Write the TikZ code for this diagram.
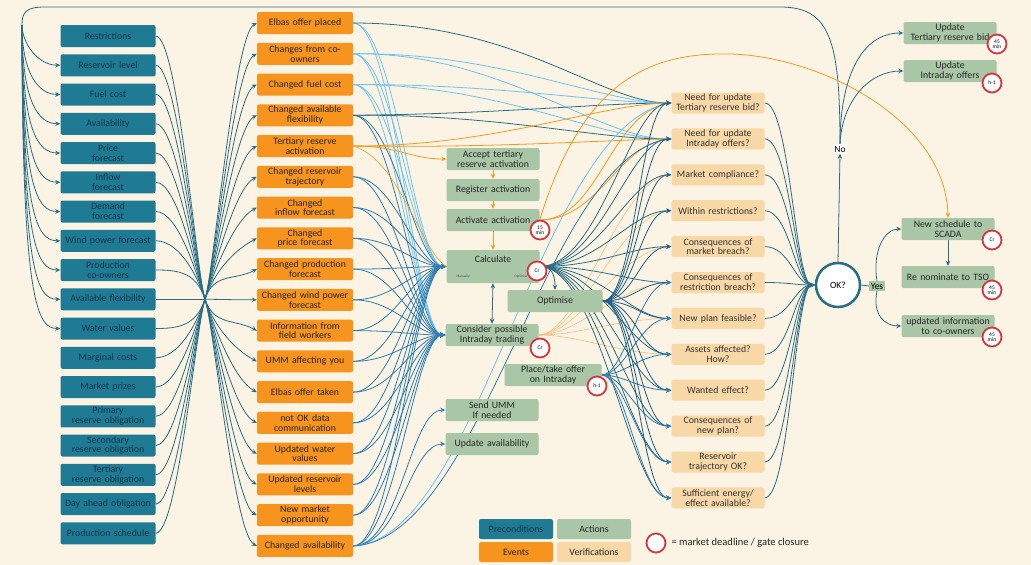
\documentclass[tikz,border=0pt]{standalone}
\usepackage{fontspec}
\setmainfont{Carlito}
\usetikzlibrary{arrows.meta}
\pgfdeclarelayer{back}
\pgfdeclarelayer{lines}
\pgfsetlayers{back,lines,main}
\definecolor{bg}{HTML}{FBF3E3}
\definecolor{pcol}{HTML}{1F7A94}
\definecolor{ptext}{HTML}{14364A}
\definecolor{ecol}{HTML}{F7941D}
\definecolor{acol}{HTML}{A9C6A6}
\definecolor{vcol}{HTML}{F9D8A7}
\definecolor{vdark}{HTML}{F0C088}
\definecolor{tl}{HTML}{2A6E85}
\definecolor{dbl}{HTML}{1F5F8A}
\definecolor{bl}{HTML}{2E7DB5}
\definecolor{lb}{HTML}{6CC4EE}
\definecolor{oc}{HTML}{F39A22}
\definecolor{mred}{HTML}{D8353C}
\tikzset{
 box/.style={rounded corners=2pt, minimum height=22pt, align=center, inner sep=0.5pt, font=\fontsize{9.8}{9.8}\selectfont},
 pre/.style={box, fill=pcol, text=ptext, minimum width=95pt, text width=94pt},
 evt/.style={box, fill=ecol, text=black!85, minimum width=96pt, text width=95pt},
 act/.style={box, fill=acol, text=black!85, minimum width=93pt, text width=92pt},
 ver/.style={box, fill=vcol, text=black!80, minimum width=93pt, text width=92pt, minimum height=21pt},
 leg/.style={box, minimum width=74pt, minimum height=20pt, text width=72pt},
 mk/.style={circle, draw=mred, line width=1.8pt, fill=white, minimum size=19pt, inner sep=0pt, align=center, font=\fontsize{5.5}{5.5}\selectfont},
 ln/.style={line width=0.8pt},
 arr/.style={-{Stealth[length=5pt,width=4.5pt]}},
}
\begin{document}
\begin{tikzpicture}[x=1pt,y=1pt]
\begin{pgfonlayer}{back}
\fill[bg] (0,0) rectangle (1031,-565);
\end{pgfonlayer}
\useasboundingbox (0,0) rectangle (1031,-565);

% preconditions
\foreach \t [count=\i] in {Restrictions, Reservoir level, Fuel cost, Availability, Price\\forecast, Inflow\\forecast, Demand\\forecast, Wind power forecast, Production\\co-owners, Available flexibility, Water values, Marginal costs, Market prizes, Primary\\reserve obligation, Secondary\\reserve obligation, Tertiary\\reserve obligation, Day ahead obligation, Production schedule}
  \node[pre] (p\i) at (108,{-(36+29.25*(\i-1))}) {\t};

% events
\foreach \t [count=\i] in {Elbas offer placed, Changes from co-\\owners, Changed fuel cost, Changed available\\flexibility, Tertiary reserve\\activation, Changed reservoir\\trajectory, Changed\\inflow forecast, Changed\\price forecast, Changed production\\forecast, Changed wind power\\forecast, Information from\\field workers, UMM affecting you, Elbas offer taken, not OK data\\communication, Updated water\\values, Updated reservoir\\levels, New market\\opportunity, Changed availability}
  \node[evt] (e\i) at (305,{-(23+30.76*(\i-1))}) {\t};

% verifications
\foreach \t [count=\i] in {Need for update\\Tertiary reserve bid?, Need for update\\Intraday offers?, Market compliance?, Within restrictions?, Consequences of\\market breach?, Consequences of\\restriction breach?, New plan feasible?, Assets affected?\\How?, Wanted effect?, Consequences of\\new plan?, Reservoir\\trajectory OK?, Sufficient energy/\\effect available?}
  \node[ver] (v\i) at (718,{-(103+35.9*(\i-1))}) {\t};

% actions
\node[act] (acc) at (493,-159) {Accept tertiary\\reserve activation};
\node[act] (reg) at (493,-190) {Register activation};
\node[act] (actv) at (493,-220) {Activate activation};
\node[act, minimum height=33pt] (calc) at (493,-266.5) {};
\node[font=\fontsize{9.8}{9.8}\selectfont, text=black!85] (calct) at (493,-259) {Calculate};
\node[font=\fontsize{3.5}{4}\selectfont, text=black!70] (man) at (463,-277) {Manually};
\node[font=\fontsize{3.5}{4}\selectfont, text=black!70] (optt) at (521,-277) {Optimise};
\node[act, minimum width=95pt] (opt) at (555,-301) {Optimise};
\node[act] (cons) at (492,-335) {Consider possible\\Intraday trading};
\node[act, minimum width=97pt] (place) at (553,-375) {Place/take offer\\on Intraday};
\node[act] (umm) at (492,-410) {Send UMM\\If needed};
\node[act] (upd) at (492,-444) {Update availability};

\node[act] (ut) at (950,-33) {Update\\Tertiary reserve bid};
\node[act] (ui) at (950,-71) {Update\\Intraday offers};
\node[act] (sched) at (948,-229) {New schedule to\\SCADA};
\node[act] (renom) at (948,-277) {Re nominate to TSO};
\node[act] (info) at (948,-326) {updated information\\to co-owners};

% decision
\node[circle, draw=tl, line width=2.5pt, fill=white, minimum size=44pt, font=\fontsize{9.5}{10}\selectfont] (ok) at (838,-285) {OK?};
\node[fill=white, inner sep=1.5pt, font=\fontsize{9.5}{10}\selectfont] (no) at (840,-149) {No};
\node[fill=acol, inner sep=1.5pt, font=\fontsize{9.5}{10}\selectfont] (yes) at (877,-286) {Yes};

% markers
\node[mk] (m1) at (540,-230) {15\\min};
\node[mk] (m2) at (537,-271) {Cr};
\node[mk] (m3) at (540,-348) {Cr};
\node[mk] (m4) at (597,-386) {h-1};
\node[mk] (m5) at (997,-44) {45\\min};
\node[mk] (m6) at (992,-83) {h-1};
\node[mk] (m7) at (992,-240) {Cr};
\node[mk] (m8) at (992,-290) {45\\min};
\node[mk] (m9) at (992,-337) {45\\min};

% legend
\node[leg, fill=pcol, text=ptext] (lp) at (516,-529) {Preconditions};
\node[leg, fill=acol, text=black!85] (la) at (594,-529) {Actions};
\node[leg, fill=ecol, text=black!85] (le) at (516,-552) {Events};
\node[leg, fill=vcol, text=black!85] (lv) at (594,-552) {Verifications};
\node[mk] (lm) at (656,-543) {};
\node[anchor=west, font=\fontsize{10.5}{11}\selectfont, text=black!85] (lt) at (668,-543) {= market deadline / gate closure};

\coordinate (h1) at (205,-299.25);
\coordinate (fb) at (22,-25);

\begin{pgfonlayer}{lines}
% preconditions -> hub
\foreach \i in {1,...,18}{
  \pgfmathsetmacro\yy{-(36+29.25*(\i-1))}
  \ifnum\i<10 \def\cy{-272}\else\ifnum\i>10 \def\cy{-326}\else\def\cy{-299.25}\fi\fi
  \draw[ln,tl] (p\i.east) .. controls (178,\yy) and (196,\cy) .. (h1);
}
% hub -> events
\foreach \i in {1,...,18}{
  \pgfmathsetmacro\yy{-(23+30.76*(\i-1))}
  \ifnum\i<10 \def\cy{-272}\def\dy{-12}\else\ifnum\i>10 \def\cy{-326}\def\dy{12}\else\def\cy{-299.25}\def\dy{0}\fi\fi
  \draw[ln,tl,arr] (h1) .. controls (214,\cy) and (234,{\yy+\dy}) .. (e\i.west);
}
% feedback loop
\draw[ln,tl] (no.north) .. controls (840,-40) and (830,-7) .. (780,-7) -- (45,-7) .. controls (26,-7) and (22,-12) .. (fb);
\foreach \i in {2,...,11}{
  \pgfmathsetmacro\yy{-(36+29.25*(\i-1))}
  \draw[ln,tl,arr] (fb) .. controls (22,{\yy+22}) and (38,\yy) .. (p\i.west);
}
% events -> calculate / consider
\foreach \i in {1,...,18}{
  \pgfmathsetmacro\yy{-(23+30.76*(\i-1))}
  \ifnum\i<4 \def\lc{lb}\else\def\lc{bl}\fi
  \ifnum\i=5 \else
  \draw[ln,color=\lc,arr] (e\i.east) .. controls (395,\yy) and (415,-266.5) .. (calc.west);
  \draw[ln,color=\lc,arr] (e\i.east) .. controls (395,\yy) and (415,-335) .. (cons.west);
  \fi
}
% events -> need for update
\draw[ln,tl,arr] (e1.east) .. controls (520,-23) and (600,-103) .. (v1.west);
\draw[ln,lb,arr] (e2.east) .. controls (500,-52) and (600,-103) .. (v1.west);
\draw[ln,lb,arr] (e2.east) .. controls (500,-52) and (600,-140) .. (v2.west);
\draw[ln,lb,arr] (e3.east) .. controls (500,-84) and (600,-103) .. (v1.west);
\draw[ln,lb,arr] (e3.east) .. controls (500,-84) and (600,-140) .. (v2.west);
\draw[ln,tl,arr] (e4.east) .. controls (500,-114) and (600,-103) .. (v1.west);
\draw[ln,tl,arr] (e4.east) .. controls (500,-114) and (600,-140) .. (v2.west);
% orange
\draw[ln,oc,arr] (e5.east) .. controls (400,-146) and (410,-159) .. (acc.west);
\draw[ln,oc] (e5.east) .. controls (500,-146) and (600,-103) .. (v1.west);
\draw[ln,oc] (e5.east) .. controls (500,-148) and (600,-140) .. (v2.west);
\draw[line width=0.6pt,oc] (e5.east) .. controls (400,-160) and (420,-250) .. (calc.west);
\draw[ln,oc,arr] (acc.south) -- (reg.north);
\draw[ln,oc,arr] (reg.south) -- (actv.north);
\draw[ln,oc,arr] (actv.south) -- (calc.north);
\draw[ln,oc] (actv.east) .. controls (600,-220) and (610,-110) .. (v1.west);
\draw[ln,oc] (actv.east) .. controls (600,-220) and (620,-140) .. (v2.west);
\draw[ln,oc,arr] (actv.east) .. controls (580,-90) and (640,-52) .. (730,-54) .. controls (820,-56) and (946,-120) .. (sched.north);
% changed availability
\draw[ln,bl,arr] (e18.east) .. controls (400,-546) and (410,-410) .. (umm.west);
\draw[ln,bl,arr] (e18.east) .. controls (400,-546) and (410,-444) .. (upd.west);
\draw[ln,lb] (e18.east) .. controls (480,-540) and (540,-120) .. (v1.west);
\draw[ln,bl] (e18.east) .. controls (485,-540) and (545,-150) .. (v2.west);
% calculate <-> consider, calculate -> optimise
\draw[ln,tl,{Stealth[length=5pt,width=4.5pt]}-{Stealth[length=5pt,width=4.5pt]}] (calc.south) -- (cons.north);
\draw[ln,tl,arr] (calc.east) .. controls (552,-266.5) and (555,-275) .. (opt.north);
% faint verification lines
\foreach \i in {3,...,8}{
  \pgfmathsetmacro\yy{-(103+35.9*(\i-1))}
  \draw[line width=0.6pt,color=vdark] (cons.east) .. controls (580,-335) and (620,\yy) .. (v\i.west);
}
% calc / optimise / place -> verifications
\foreach \i in {1,...,12}{
  \pgfmathsetmacro\yy{-(103+35.9*(\i-1))}
  \draw[ln,tl,arr] (calc.east) .. controls (600,-266.5) and (630,\yy) .. (v\i.west);
  \draw[ln,dbl,arr] (opt.east) .. controls (635,-301) and (640,\yy) .. (v\i.west);
  \ifnum\i>5 \draw[ln,bl,arr] (place.east) .. controls (625,-375) and (640,\yy) .. (v\i.west);\fi
  \draw[ln,tl,arr] (v\i.east) .. controls (790,\yy) and (795,-285) .. (ok.west);
}
% decision outputs
\draw[ln,tl,arr] (ok.north) -- (no.south);
\draw[ln,tl,arr] (no.north) .. controls (840,-80) and (860,-33) .. (ut.west);
\draw[ln,tl,arr] (no.north) .. controls (842,-100) and (870,-71) .. (ui.west);
\draw[ln,tl] (ok.east) -- (yes.west);
\draw[ln,tl,arr] (yes.north) .. controls (872,-250) and (885,-229) .. (sched.west);
\draw[ln,tl,arr] (yes.south) .. controls (872,-315) and (885,-326) .. (info.west);
\draw[ln,tl,arr] (sched.south) -- (renom.north);
\end{pgfonlayer}
\end{tikzpicture}
\end{document}
